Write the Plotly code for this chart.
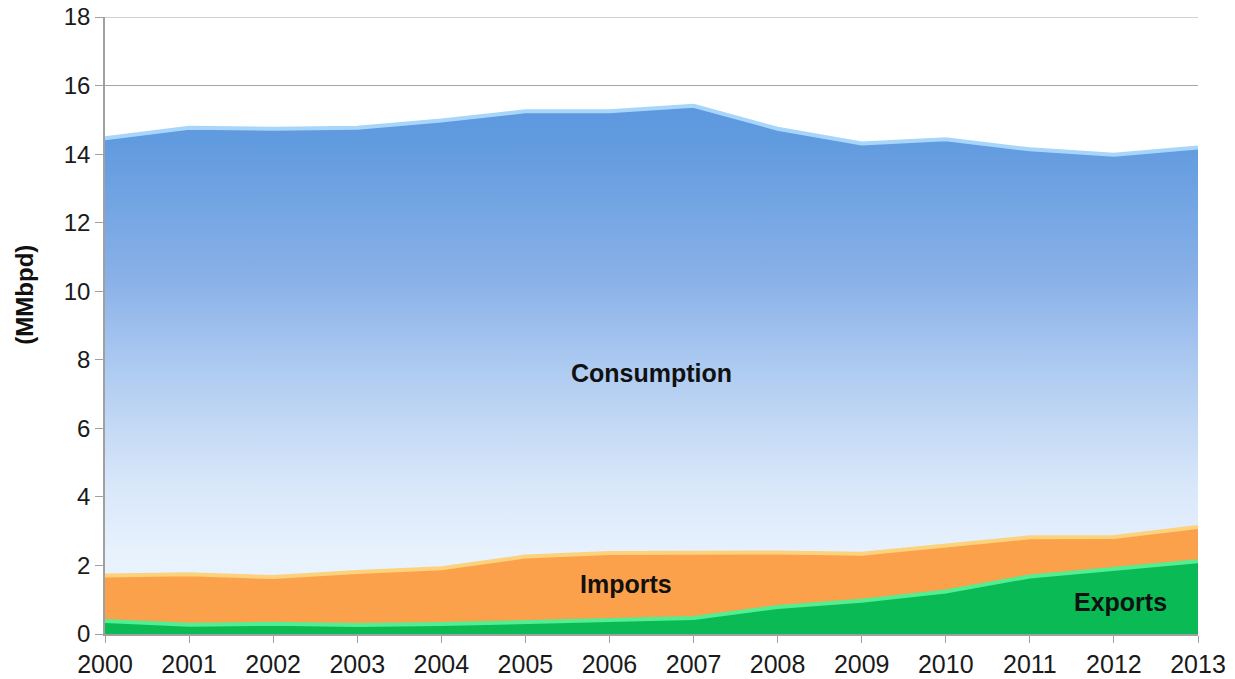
import plotly.graph_objects as go

years = list(range(2000, 2014))
consumption = [14.46, 14.77, 14.74, 14.77, 14.98, 15.25, 15.25, 15.41, 14.74, 14.31, 14.43, 14.14, 13.98, 14.19]
imports = [1.71, 1.74, 1.66, 1.81, 1.92, 2.26, 2.36, 2.38, 2.38, 2.34, 2.57, 2.82, 2.83, 3.12]
exports = [0.38, 0.27, 0.30, 0.26, 0.29, 0.34, 0.41, 0.47, 0.79, 0.97, 1.24, 1.68, 1.89, 2.12]

y_ticks = list(range(0, 19, 2))

fig = go.Figure()

# Consumption area with vertical gradient
fig.add_trace(go.Scatter(
    x=years, y=consumption, mode="lines", fill="tozeroy",
    line=dict(color="#5a8fd8", width=1.5),
    fillgradient=dict(type="vertical", start=0, stop=15.4,
                      colorscale=[[0, "#ecf5fe"], [0.15, "#e8f2fd"], [0.28, "#d9e7fa"],
                                  [0.40, "#c2d8f4"], [0.53, "#a8c7f0"], [0.67, "#8ab1e8"],
                                  [0.93, "#619bdf"], [1, "#5d97de"]]),
    hoverinfo="skip", showlegend=False))
fig.add_trace(go.Scatter(
    x=years, y=consumption, mode="lines",
    line=dict(color="#a8d6fb", width=4), hoverinfo="skip", showlegend=False))

# Imports area
fig.add_trace(go.Scatter(
    x=years, y=imports, mode="lines", fill="tozeroy",
    line=dict(color="#f6a04c", width=1), fillcolor="#fba04b",
    hoverinfo="skip", showlegend=False))
fig.add_trace(go.Scatter(
    x=years, y=imports, mode="lines",
    line=dict(color="#fdd27c", width=4), hoverinfo="skip", showlegend=False))

# Exports area
fig.add_trace(go.Scatter(
    x=years, y=exports, mode="lines", fill="tozeroy",
    line=dict(color="#0bb555", width=1), fillcolor="#0aba55",
    hoverinfo="skip", showlegend=False))
fig.add_trace(go.Scatter(
    x=years, y=exports, mode="lines",
    line=dict(color="#52ee91", width=4), hoverinfo="skip", showlegend=False))

annot_font = dict(family="Liberation Sans, Arial, sans-serif", size=25, color="#111111")
fig.add_annotation(x=2006.5, y=7.6, text="<b>Consumption</b>", showarrow=False, font=annot_font)
fig.add_annotation(x=2006.2, y=1.45, text="<b>Imports</b>", showarrow=False, font=annot_font)
fig.add_annotation(x=2012.08, y=0.93, text="<b>Exports</b>", showarrow=False, font=annot_font)

# y-axis title
fig.add_annotation(xref="paper", yref="y", x=-0.0732, y=9.9, text="<b>(MMbpd)</b>",
                   textangle=-90, showarrow=False, xanchor="center", yanchor="middle",
                   font=dict(family="Liberation Sans, Arial, sans-serif", size=24, color="#111111"))

# top gridline at 18
fig.add_shape(type="line", xref="paper", yref="y", x0=0, x1=1, y0=18, y1=18,
              line=dict(color="#a6a6a6", width=1), layer="below")

fig.update_layout(
    width=1235, height=679,
    margin=dict(l=105, r=37, t=17, b=45),
    paper_bgcolor="white", plot_bgcolor="white",
    font=dict(family="Liberation Sans, Arial, sans-serif", size=24, color="#1a1a1a"),
    xaxis=dict(
        range=[2000, 2013], tickmode="array", tickvals=years,
        ticktext=[str(y) for y in years], automargin=False,
        showgrid=False, zeroline=False,
        showline=True, linecolor="#a0a0a0", linewidth=1.5,
        ticks="outside", ticklen=7, tickcolor="#a0a0a0",
        tickfont=dict(size=25), mirror=False),
    yaxis=dict(
        range=[0, 18], tickmode="array", tickvals=y_ticks, automargin=False,
        showgrid=True, gridcolor="#a6a6a6", gridwidth=1, zeroline=False,
        showline=True, linecolor="#a0a0a0", linewidth=1.5,
        ticks="outside", ticklen=8, tickcolor="#a0a0a0",
        tickfont=dict(size=24)),
)

fig.write_html("out.html", config={"displayModeBar": False},
               post_script="document.body.style.margin='0';document.body.style.overflow='hidden';")
